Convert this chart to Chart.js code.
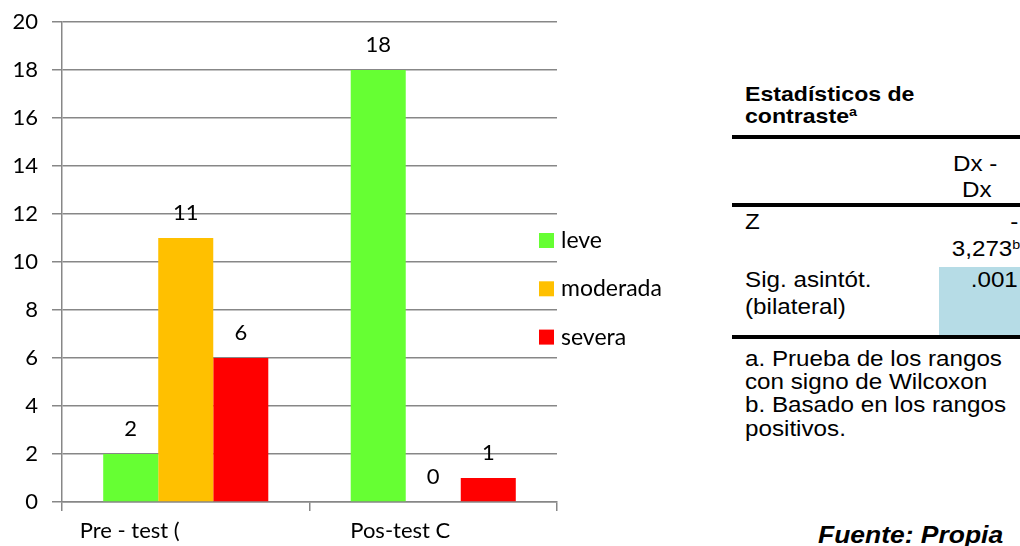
<!DOCTYPE html>
<html>
<head>
<meta charset="utf-8">
<script src="https://cdn.jsdelivr.net/npm/chart.js@4.4.1/dist/chart.umd.min.js"></script>
<style>
  html, body { margin:0; padding:0; background:#fff; width:1020px; height:546px; overflow:hidden; }
  #wrap { position:relative; width:1020px; height:546px; }
  #c { position:absolute; left:0; top:0; }
  .t { position:absolute; font-family:"Liberation Sans", Arial, sans-serif; font-size:22px; line-height:22px; color:#000; white-space:nowrap; }
  .sx { transform:scaleX(1.1); transform-origin:left top; }
  .sxr { transform:scaleX(1.1); transform-origin:right top; text-align:right; }
  .b { font-weight:bold; }
  .rule { position:absolute; left:732px; width:288px; height:4px; background:#000; }
  sup { font-size:13px; line-height:0; vertical-align:7px; }
</style>
</head>
<body>
<div id="wrap">
  <canvas id="c" width="700" height="546"></canvas>

  <div class="t b sx" style="left:745px; top:83px; font-size:21px; line-height:21px;">Estadísticos de</div>
  <div class="t b sx" style="left:745px; top:105px; font-size:21px; line-height:21px;">contraste<sup>a</sup></div>
  <div class="rule" style="top:135px;"></div>
  <div class="t sx" style="left:953px; top:153px;">Dx -</div>
  <div class="t sx" style="left:962px; top:179px;">Dx</div>
  <div class="rule" style="top:203px;"></div>
  <div class="t sx" style="left:745px; top:211px;">Z</div>
  <div class="t sxr" style="right:2px; top:211px;">-</div>
  <div class="t sxr" style="right:0px; top:238px;">3,273<sup>b</sup></div>
  <div style="position:absolute; left:939px; top:267px; width:81px; height:68px; background:#B6DCE6;"></div>
  <div class="t sx" style="left:745px; top:269px;">Sig. asintót.</div>
  <div class="t sx" style="left:745px; top:296px;">(bilateral)</div>
  <div class="t sxr" style="right:2px; top:269px;">.001</div>
  <div class="rule" style="top:335px;"></div>
  <div class="t sx" style="left:745px; top:348px;">a. Prueba de los rangos</div>
  <div class="t sx" style="left:745px; top:371px;">con signo de Wilcoxon</div>
  <div class="t sx" style="left:745px; top:394px;">b. Basado en los rangos</div>
  <div class="t sx" style="left:745px; top:418px;">positivos.</div>
  <div class="t b" style="left:818px; top:524px; font-style:italic; font-size:23px; line-height:23px; transform:scaleX(1.15); transform-origin:left top;">Fuente: Propia</div>
</div>

<script>
// ---- data ----
const categories = ["Pre - test (", "Pos-test C"];
const seriesNames = ["leve", "moderada", "severa"];
const leve = [2, 18];
const moderada = [11, 0];
const severa = [6, 1];
const yTicks = [0, 2, 4, 6, 8, 10, 12, 14, 16, 18, 20];

const colors = ["#66FF33", "#FFC000", "#FF0000"];
const FONT = "Lato, 'Open Sans', sans-serif";
const GRID = "#878787";

const valueLabels = {
  id: "valueLabels",
  afterDatasetsDraw(chart) {
    const ctx = chart.ctx;
    ctx.save();
    ctx.font = "22px " + FONT;
    ctx.fillStyle = "#000";
    ctx.textAlign = "center";
    ctx.textBaseline = "middle";
    chart.data.datasets.forEach((ds, di) => {
      const meta = chart.getDatasetMeta(di);
      meta.data.forEach((el, i) => {
        ctx.fillText(String(ds.data[i]), el.x, el.y - 25);
      });
    });
    ctx.restore();
  }
};

const xLabels = {
  id: "xLabels",
  afterDraw(chart) {
    const ctx = chart.ctx;
    const xs = chart.scales.x;
    const shift = [-106, -83];
    ctx.save();
    ctx.font = "22px " + FONT;
    ctx.fillStyle = "#000";
    ctx.textAlign = "left";
    ctx.textBaseline = "middle";
    categories.forEach((c, i) => {
      ctx.fillText(c, xs.getPixelForTick(i) + shift[i], 531);
    });
    ctx.restore();
  }
};

const sideLegend = {
  id: "sideLegend",
  afterDraw(chart) {
    const ctx = chart.ctx;
    ctx.save();
    ctx.font = "23px " + FONT;
    ctx.textAlign = "left";
    ctx.textBaseline = "middle";
    chart.data.datasets.forEach((ds, i) => {
      const cy = 240.5 + i * 48.3;
      ctx.fillStyle = ds.backgroundColor;
      ctx.fillRect(539, cy - 7.5, 15, 15);
      ctx.fillStyle = "#000";
      ctx.fillText(ds.label, 561, cy);
    });
    ctx.restore();
  }
};

new Chart(document.getElementById("c"), {
  type: "bar",
  data: {
    labels: categories,
    datasets: [
      { label: seriesNames[0], data: leve, backgroundColor: colors[0] },
      { label: seriesNames[1], data: moderada, backgroundColor: colors[1] },
      { label: seriesNames[2], data: severa, backgroundColor: colors[2] }
    ]
  },
  options: {
    responsive: false,
    animation: false,
    layout: { padding: { top: 22, right: 143, left: 0, bottom: 0 } },
    datasets: { bar: { categoryPercentage: 0.667, barPercentage: 1.0 } },
    plugins: { legend: { display: false }, tooltip: { enabled: false } },
    scales: {
      y: {
        min: 0, max: 20,
        afterBuildTicks(s) { s.ticks = yTicks.map(v => ({ value: v })); },
        afterFit(s) { s.width = 62; s.paddingTop = 0; s.paddingBottom = 0; },
        ticks: { font: { family: FONT, size: 22 }, color: "#000", padding: 14 },
        grid: { color: GRID, lineWidth: 1.5, tickLength: 10 },
        border: { color: GRID, width: 1.5 }
      },
      x: {
        afterFit(s) { s.height = 44; s.paddingLeft = 0; s.paddingRight = 0; },
        ticks: { display: false },
        grid: { display: true, drawOnChartArea: false, drawTicks: true, tickLength: 9, offset: true, color: GRID, lineWidth: 1.5 },
        border: { color: GRID, width: 1.5 }
      }
    }
  },
  plugins: [valueLabels, xLabels, sideLegend]
});
</script>
</body>
</html>
